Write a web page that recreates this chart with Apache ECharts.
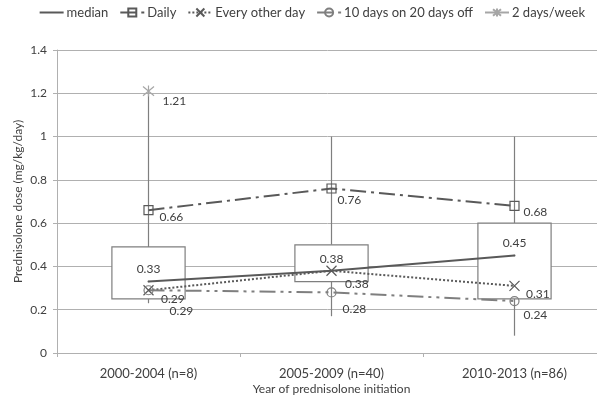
<!DOCTYPE html>
<html>
<head>
<meta charset="utf-8">
<script src="https://cdn.jsdelivr.net/npm/echarts@6/dist/echarts.min.js"></script>
<style>
  html, body { margin: 0; padding: 0; background: #ffffff; }
  #chart { width: 597px; height: 395px; }
</style>
</head>
<body>
<div id="chart"></div>
<script>
// Period of prednisolone initiation
const categories = ['2000-2004 (n=8)', '2005-2009 (n=40)', '2010-2013 (n=86)'];

// Box-and-whisker spread of dose per period
const whiskerLow  = [0.23, 0.17, 0.08];
const boxLow      = [0.25, 0.33, 0.25];
const boxHigh     = [0.49, 0.50, 0.60];
const whiskerHigh = [1.21, 1.00, 1.00];

// Dose by regimen (mg/kg/day)
const median     = [0.33, 0.38, 0.45];
const daily      = [0.66, 0.76, 0.68];
const everyOther = [0.29, 0.38, 0.31];
const tenOnTwentyOff = [0.29, 0.28, 0.24];
const twoPerWeek = [1.21, null, null];

const yTicks = { min: 0, max: 1.4, interval: 0.2 };

// Per-point label nudges [dx, dy] in pixels
const labelNudge = {
  daily:      [[1, 7], [-4, 12], [-1, 6]],
  everyOther: [[0, 9], [1, 13], [-1, 8]],
  tenDays:    [[11, 21], [1, 17], [-1, 14]],
  twoDays:    [[1, 10], [0, 0], [0, 0]]
};

const FONT = 'Lato';
const TEXT = '#404040';
const GRID = '#b0b0b0';
const DARK = '#595959';
const MID = '#7f7f7f';
const LIGHT = '#a6a6a6';

function withLabels(values, nudges) {
  return values.map((v, i) => ({
    value: v,
    label: { offset: nudges[i] }
  }));
}

const pointLabel = {
  show: true,
  position: 'right',
  distance: 5,
  color: TEXT,
  fontFamily: FONT,
  fontSize: 12
};

const X_PATH = 'path://M0,0L10,10M10,0L0,10';
const STAR_PATH = 'path://M0,0L10,10M10,0L0,10M5,-1L5,11';

const boxData = categories.map((c, i) => [i, whiskerLow[i], boxLow[i], boxHigh[i], whiskerHigh[i]]);

const chart = echarts.init(document.getElementById('chart'), null, { renderer: 'canvas' });

chart.setOption({
  animation: false,
  textStyle: { fontFamily: FONT },
  legend: {
    data: [
      { name: 'median', itemStyle: { opacity: 0 } },
      'Daily', 'Every other day', '10 days on 20 days off', '2 days/week'
    ],
    right: 7,
    top: 1,
    itemWidth: 24,
    itemHeight: 10,
    itemGap: 11,
    textStyle: { fontFamily: FONT, fontSize: 13, color: TEXT, padding: [0, 0, 0, -2] }
  },
  grid: { left: 57, top: 50, width: 549, height: 303, outerBoundsMode: 'none', containLabel: false },
  xAxis: {
    type: 'category',
    data: categories,
    name: 'Year of prednisolone initiation',
    nameLocation: 'middle',
    nameGap: 30,
    nameMoveOverlap: false,
    nameTextStyle: { fontFamily: FONT, fontSize: 12, color: TEXT },
    axisLine: { lineStyle: { color: GRID, width: 1 } },
    axisTick: { show: true, length: 4, lineStyle: { color: GRID } },
    axisLabel: { fontFamily: FONT, fontSize: 13, color: TEXT, margin: 14 }
  },
  yAxis: {
    type: 'value',
    min: yTicks.min,
    max: yTicks.max,
    interval: yTicks.interval,
    name: 'Prednisolone dose (mg/kg/day)',
    nameLocation: 'middle',
    nameGap: 33,
    nameMoveOverlap: false,
    nameTextStyle: { fontFamily: FONT, fontSize: 12, color: TEXT },
    axisLine: { show: true, lineStyle: { color: GRID, width: 1 } },
    axisTick: { show: true, length: 4, lineStyle: { color: GRID } },
    axisLabel: { fontFamily: FONT, fontSize: 12, color: TEXT, margin: 10 },
    splitLine: { lineStyle: { color: GRID, width: 1 } }
  },
  series: [
    {
      name: 'spread',
      type: 'custom',
      z: 1,
      silent: true,
      data: boxData,
      encode: { x: 0, y: [1, 2, 3, 4] },
      renderItem: function (params, api) {
        const i = api.value(0);
        const pWl = api.coord([i, api.value(1)]);
        const pBl = api.coord([i, api.value(2)]);
        const pBh = api.coord([i, api.value(3)]);
        const pWh = api.coord([i, api.value(4)]);
        const halfW = api.size([1, 0])[0] * 0.2;
        const stroke = { stroke: MID, lineWidth: 1.2 };
        return {
          type: 'group',
          children: [
            { type: 'line', shape: { x1: pWl[0], y1: pWl[1], x2: pBl[0], y2: pBl[1] }, style: stroke },
            { type: 'line', shape: { x1: pBh[0], y1: pBh[1], x2: pWh[0], y2: pWh[1] }, style: stroke },
            {
              type: 'rect',
              shape: { x: pBh[0] - halfW, y: pBh[1], width: halfW * 2, height: pBl[1] - pBh[1] },
              style: { fill: '#ffffff', stroke: MID, lineWidth: 1.2 }
            }
          ]
        };
      }
    },
    {
      name: 'median',
      type: 'line',
      z: 3,
      data: median,
      symbol: 'circle',
      symbolSize: 2,
      lineStyle: { color: DARK, width: 2, type: 'solid' },
      itemStyle: { color: DARK },
      label: { show: true, position: 'top', distance: 5, color: TEXT, fontFamily: FONT, fontSize: 12 }
    },
    {
      name: 'Daily',
      type: 'line',
      z: 4,
      data: withLabels(daily, labelNudge.daily),
      symbol: 'rect',
      symbolSize: 9,
      lineStyle: { color: DARK, width: 2, type: [16, 5, 3, 5] },
      itemStyle: { color: 'transparent', borderColor: DARK, borderWidth: 1.2 },
      label: pointLabel
    },
    {
      name: 'Every other day',
      type: 'line',
      z: 4,
      data: withLabels(everyOther, labelNudge.everyOther),
      symbol: X_PATH,
      symbolSize: 10,
      lineStyle: { color: DARK, width: 2, type: [2, 2] },
      itemStyle: { color: 'none', borderColor: DARK, borderWidth: 1.2 },
      label: pointLabel
    },
    {
      name: '10 days on 20 days off',
      type: 'line',
      z: 4,
      data: withLabels(tenOnTwentyOff, labelNudge.tenDays),
      symbol: 'circle',
      symbolSize: 9,
      lineStyle: { color: MID, width: 2, type: [16, 5, 3, 5, 3, 5] },
      itemStyle: { color: 'transparent', borderColor: MID, borderWidth: 1.2 },
      label: pointLabel
    },
    {
      name: '2 days/week',
      type: 'line',
      z: 4,
      data: withLabels(twoPerWeek, labelNudge.twoDays),
      symbol: STAR_PATH,
      symbolSize: 11,
      connectNulls: false,
      lineStyle: { color: LIGHT, width: 2 },
      itemStyle: { color: 'none', borderColor: LIGHT, borderWidth: 1.2 },
      label: pointLabel
    }
  ]
});
</script>
</body>
</html>
